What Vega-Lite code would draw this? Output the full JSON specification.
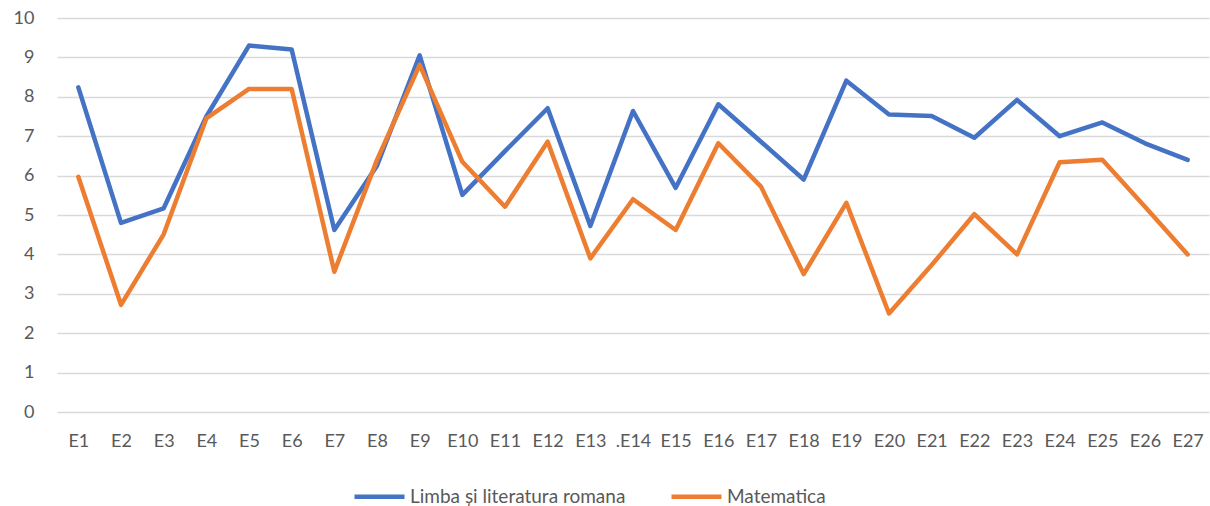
{
  "$schema": "https://vega.github.io/schema/vega-lite/v6.json",
  "width": 1152,
  "height": 394,
  "autosize": "none",
  "padding": {"left": 57, "top": 18, "right": 1, "bottom": 94},
  "background": "white",
  "config": {
    "view": {"stroke": null},
    "font": "Lato",
    "axis": {"labelFont": "Lato", "labelFontSize": 18, "labelColor": "#595959"}
  },
  "data": {
    "values": [
      {"exam": "E1", "series": "Limba și literatura romana", "value": 8.24},
      {"exam": "E2", "series": "Limba și literatura romana", "value": 4.8},
      {"exam": "E3", "series": "Limba și literatura romana", "value": 5.17},
      {"exam": "E4", "series": "Limba și literatura romana", "value": 7.5},
      {"exam": "E5", "series": "Limba și literatura romana", "value": 9.3},
      {"exam": "E6", "series": "Limba și literatura romana", "value": 9.2},
      {"exam": "E7", "series": "Limba și literatura romana", "value": 4.62},
      {"exam": "E8", "series": "Limba și literatura romana", "value": 6.25},
      {"exam": "E9", "series": "Limba și literatura romana", "value": 9.05},
      {"exam": "E10", "series": "Limba și literatura romana", "value": 5.51},
      {"exam": "E11", "series": "Limba și literatura romana", "value": 6.62},
      {"exam": "E12", "series": "Limba și literatura romana", "value": 7.71},
      {"exam": "E13", "series": "Limba și literatura romana", "value": 4.72},
      {"exam": ".E14", "series": "Limba și literatura romana", "value": 7.64},
      {"exam": "E15", "series": "Limba și literatura romana", "value": 5.69},
      {"exam": "E16", "series": "Limba și literatura romana", "value": 7.81},
      {"exam": "E17", "series": "Limba și literatura romana", "value": 6.86},
      {"exam": "E18", "series": "Limba și literatura romana", "value": 5.9},
      {"exam": "E19", "series": "Limba și literatura romana", "value": 8.41},
      {"exam": "E20", "series": "Limba și literatura romana", "value": 7.55},
      {"exam": "E21", "series": "Limba și literatura romana", "value": 7.51},
      {"exam": "E22", "series": "Limba și literatura romana", "value": 6.96},
      {"exam": "E23", "series": "Limba și literatura romana", "value": 7.92},
      {"exam": "E24", "series": "Limba și literatura romana", "value": 7.0},
      {"exam": "E25", "series": "Limba și literatura romana", "value": 7.35},
      {"exam": "E26", "series": "Limba și literatura romana", "value": 6.82},
      {"exam": "E27", "series": "Limba și literatura romana", "value": 6.4},
      {"exam": "E1", "series": "Matematica", "value": 5.97},
      {"exam": "E2", "series": "Matematica", "value": 2.72},
      {"exam": "E3", "series": "Matematica", "value": 4.51},
      {"exam": "E4", "series": "Matematica", "value": 7.45},
      {"exam": "E5", "series": "Matematica", "value": 8.2},
      {"exam": "E6", "series": "Matematica", "value": 8.2},
      {"exam": "E7", "series": "Matematica", "value": 3.56},
      {"exam": "E8", "series": "Matematica", "value": 6.4},
      {"exam": "E9", "series": "Matematica", "value": 8.81},
      {"exam": "E10", "series": "Matematica", "value": 6.35},
      {"exam": "E11", "series": "Matematica", "value": 5.21},
      {"exam": "E12", "series": "Matematica", "value": 6.86},
      {"exam": "E13", "series": "Matematica", "value": 3.9},
      {"exam": ".E14", "series": "Matematica", "value": 5.4},
      {"exam": "E15", "series": "Matematica", "value": 4.62},
      {"exam": "E16", "series": "Matematica", "value": 6.82},
      {"exam": "E17", "series": "Matematica", "value": 5.72},
      {"exam": "E18", "series": "Matematica", "value": 3.5},
      {"exam": "E19", "series": "Matematica", "value": 5.31},
      {"exam": "E20", "series": "Matematica", "value": 2.5},
      {"exam": "E21", "series": "Matematica", "value": 3.73},
      {"exam": "E22", "series": "Matematica", "value": 5.02},
      {"exam": "E23", "series": "Matematica", "value": 4.0},
      {"exam": "E24", "series": "Matematica", "value": 6.34},
      {"exam": "E25", "series": "Matematica", "value": 6.4},
      {"exam": "E26", "series": "Matematica", "value": 5.21},
      {"exam": "E27", "series": "Matematica", "value": 4.0}
    ]
  },
  "mark": {"type": "line", "strokeWidth": 4.5, "strokeCap": "round", "strokeJoin": "round"},
  "encoding": {
    "x": {
      "field": "exam",
      "type": "nominal",
      "sort": null,
      "scale": {"type": "point", "padding": 0.5},
      "axis": {"title": null, "labelAngle": 0, "domain": false, "ticks": false, "labelPadding": 20, "grid": false}
    },
    "y": {
      "field": "value",
      "type": "quantitative",
      "scale": {"domain": [0, 10], "nice": false},
      "axis": {"title": null, "values": [0,1,2,3,4,5,6,7,8,9,10], "domain": false, "ticks": false, "labelPadding": 23, "gridColor": "#d9d9d9", "gridWidth": 1.3}
    },
    "color": {
      "field": "series",
      "type": "nominal",
      "sort": ["Limba și literatura romana", "Matematica"],
      "scale": {"range": ["#4472C4", "#ED7D31"]},
      "legend": {
        "title": null,
        "orient": "none",
        "direction": "horizontal",
        "legendX": 295,
        "legendY": 451,
        "padding": 0,
        "symbolType": "M-1,0H1",
        "symbolSize": 2500,
        "symbolStrokeWidth": 4.5,
        "labelFont": "Lato",
        "labelFontSize": 19,
        "labelColor": "#595959",
        "labelOffset": 3,
        "labelLimit": 400,
        "columnPadding": 36
      }
    }
  }
}
